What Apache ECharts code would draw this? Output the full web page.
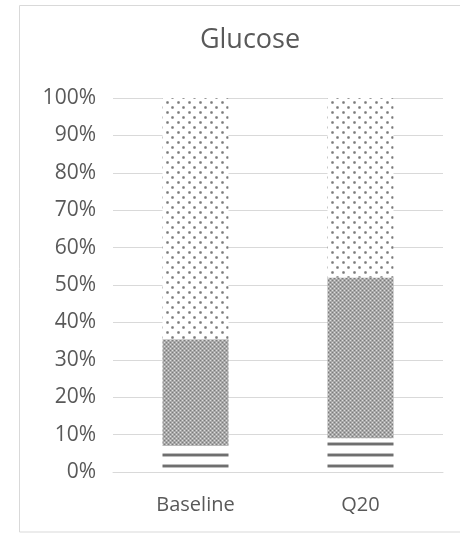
<!DOCTYPE html>
<html>
<head>
<meta charset="utf-8">
<script src="https://cdn.jsdelivr.net/npm/echarts@6/dist/echarts.min.js"></script>
<style>
  html, body { margin: 0; padding: 0; background: #fff; }
  #main { width: 460px; height: 534px; }
</style>
</head>
<body>
<div id="main"></div>
<script>
// categories and stacked shares (percent of total)
const categories = ['Baseline', 'Q20']
const lowValues = [7, 9]        // horizontal stripes
const midValues = [28.5, 43]    // checkered
const highValues = [64.5, 48]   // dotted
const yTicks = [0, 10, 20, 30, 40, 50, 60, 70, 80, 90, 100]

// pattern helpers
const makeTile = (w, h, draw) => {
  const c = document.createElement('canvas')
  c.width = w
  c.height = h
  const ctx = c.getContext('2d')
  draw(ctx)
  return {image: c, repeat: 'repeat'}
}

// stripes: period 11, dark rows at 2..4
const stripes = makeTile(11, 11, ctx => {
  ctx.fillStyle = '#ffffff'
  ctx.fillRect(0, 0, 11, 11)
  ctx.fillStyle = '#bdbdbd'
  ctx.fillRect(0, 2, 11, 1)
  ctx.fillRect(0, 5, 11, 1)
  ctx.fillStyle = '#6f6f6f'
  ctx.fillRect(0, 3, 11, 2)
})

// checker: dense grey
const checker = makeTile(4, 4, ctx => {
  ctx.fillStyle = '#a8a8a8'
  ctx.fillRect(0, 0, 4, 4)
  ctx.fillStyle = '#7c7c7c'
  ctx.fillRect(0, 0, 1, 1)
  ctx.fillRect(2, 2, 1, 1)
  ctx.fillStyle = '#dcdcdc'
  ctx.fillRect(2, 0, 1, 1)
  ctx.fillRect(0, 2, 1, 1)
})

// dots: staggered grey dots
const dots = makeTile(11, 10, ctx => {
  ctx.fillStyle = '#ffffff'
  ctx.fillRect(0, 0, 11, 10)
  ctx.fillStyle = '#c8c8c8'
  ctx.fillRect(1, 1, 3, 3)
  ctx.fillRect(6, 6, 3, 3)
  ctx.fillStyle = '#7a7a7a'
  ctx.fillRect(2, 2, 1, 1)
  ctx.fillRect(7, 7, 1, 1)
  ctx.fillStyle = '#999999'
  ctx.fillRect(2, 1, 1, 1); ctx.fillRect(2, 3, 1, 1); ctx.fillRect(1, 2, 1, 1); ctx.fillRect(3, 2, 1, 1)
  ctx.fillRect(7, 6, 1, 1); ctx.fillRect(7, 8, 1, 1); ctx.fillRect(6, 7, 1, 1); ctx.fillRect(8, 7, 1, 1)
})

const chart = echarts.init(document.getElementById('main'))
const font = '"Open Sans", sans-serif'

const bar = (name, data, fill) => ({
  name,
  type: 'bar',
  stack: 'total',
  barWidth: 66,
  data,
  itemStyle: {color: fill},
  emphasis: {disabled: true},
})

chart.setOption({
  animation: false,
  title: {
    text: 'Glucose',
    left: 245,
    textAlign: 'center',
    top: 22,
    textStyle: {color: '#595959', fontSize: 27, fontWeight: 'normal', fontFamily: font},
  },
  graphic: [{
    type: 'rect',
    shape: {x: 19.5, y: 5.5, width: 480, height: 526.5},
    style: {fill: 'none', stroke: '#d9d9d9', lineWidth: 1},
    silent: true,
  }],
  grid: {left: 113, right: 17, top: 98, height: 374},
  xAxis: {
    type: 'category',
    data: categories,
    axisTick: {show: false},
    axisLine: {show: true, lineStyle: {color: '#d9d9d9', width: 1}},
    axisLabel: {color: '#595959', fontSize: 20, fontFamily: font, margin: 23},
  },
  yAxis: {
    type: 'value',
    min: yTicks[0],
    max: yTicks[yTicks.length - 1],
    interval: 10,
    axisLine: {show: false},
    axisTick: {show: false},
    splitLine: {lineStyle: {color: '#d9d9d9', width: 1}},
    axisLabel: {color: '#595959', fontSize: 21, fontFamily: font, margin: 17, formatter: v => v + '%'},
  },
  series: [
    bar('Low', lowValues, stripes),
    bar('Mid', midValues, checker),
    bar('High', highValues, dots),
  ],
})
</script>
</body>
</html>
